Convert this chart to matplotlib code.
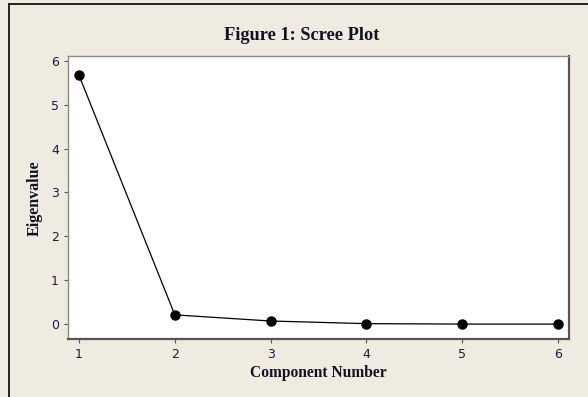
import matplotlib
matplotlib.use('Agg')
import matplotlib.pyplot as plt
from matplotlib.lines import Line2D

components = [1, 2, 3, 4, 5, 6]
eigenvalues = [5.67, 0.21, 0.07, 0.01, 0.0, 0.0]

fig = plt.figure(figsize=(5.88, 3.97), dpi=100)
fig.patch.set_facecolor('#efebe1')

W, H = 588.0, 397.0
ax = fig.add_axes([68 / W, 1 - 339 / H, (569 - 68) / W, (339 - 56) / H])
ax.set_facecolor('white')

ax.plot(components, eigenvalues, color='black', lw=0.9, marker='o', ms=6.5)

ax.set_xlim(0.885, 6.115)
ax.set_ylim(-0.34, 6.11)
ax.set_xticks(components)
ax.set_yticks(range(0, 7))
ax.tick_params(direction='out', length=3, width=0.8, colors='#555555',
               labelcolor='#1a1a40', labelsize=9)

for s in ['left', 'top']:
    ax.spines[s].set_color('#8a8a8a')
    ax.spines[s].set_linewidth(1.0)
for s in ['right', 'bottom']:
    ax.spines[s].set_color('#555555')
    ax.spines[s].set_linewidth(1.6)

serif = ['Liberation Serif', 'DejaVu Serif']
fig.text(302 / W, 1 - 35 / H, 'Figure 1: Scree Plot', ha='center', va='center',
         family=serif, weight='bold', fontsize=13.2, color='#111122')
fig.text(318 / W, 1 - 373 / H, 'Component Number', ha='center', va='center',
         family=serif, weight='bold', fontsize=11.2, color='#111122')
fig.text(35 / W, 1 - 198 / H, 'Eigenvalue', ha='center', va='center', rotation=90,
         family=serif, weight='bold', fontsize=11.5, color='#111122')

# outer frame lines (left and top)
fig.add_artist(Line2D([8.5 / W, 8.5 / W], [0, 1 - 4 / H], color='black', lw=1.2,
                      transform=fig.transFigure))
fig.add_artist(Line2D([8.5 / W, 1], [1 - 4 / H, 1 - 4 / H], color='black', lw=1.2,
                      transform=fig.transFigure))

fig.savefig('out.png', dpi=100, facecolor=fig.get_facecolor())
